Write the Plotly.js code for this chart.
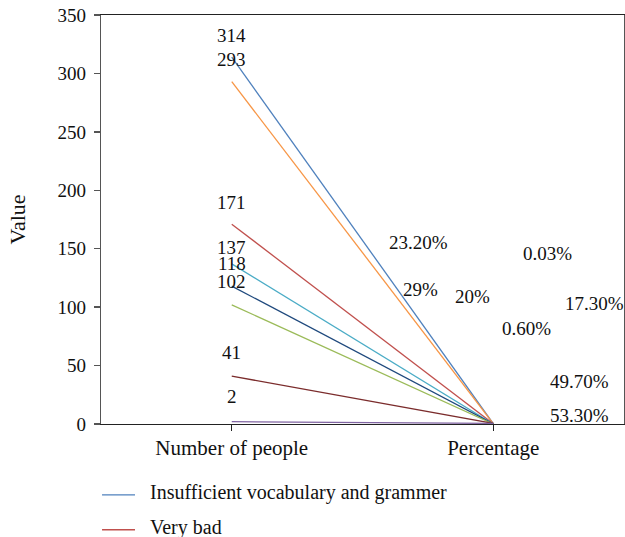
<!DOCTYPE html>
<html>
<head>
<meta charset="utf-8">
<script src="https://cdn.plot.ly/plotly-3.0.1.min.js"></script>
<style>html,body{margin:0;padding:0;background:#fff;}#chart{width:625px;height:537px;}</style>
</head>
<body>
<div id="chart"></div>
<script>
// ---- data ----
var categories = ["Number of people", "Percentage"];
var seriesNames = ["Insufficient vocabulary and grammer", "Series 2", "Very bad", "Series 4", "Series 5", "Series 6", "Series 7", "Series 8"];
var peopleCounts = [314, 293, 171, 137, 118, 102, 41, 2];
var percentValues = [23.2, 29, 20, 0.03, 17.3, 0.6, 49.7, 53.3];
var percentLabels = ["23.20%", "29%", "20%", "0.03%", "17.30%", "0.60%", "49.70%", "53.30%"];
var yTickValues = [0, 50, 100, 150, 200, 250, 300, 350];

// ---- styles ----
var colors = ["#4F81BD", "#F79646", "#C0504D", "#4BACC6", "#1F497D", "#9BBB59", "#7B2C2C", "#8064A2"];
var legendEntries = [0, 2];               // series shown in the (visible part of the) legend
var legendRowY = [-0.1735, -0.2585];       // paper y of each legend row
var countLabelShift = [22, 22, 22, 16, 23, 23, 24, 25];
// placement of the percentage labels (x in category units, y in value units)
var pctLabelPos = [[0.713, 155], [0.72, 115.5], [0.92, 108.7], [1.207, 146], [1.387, 103.5], [1.126, 82], [1.33, 36], [1.33, 7.7]];

var FONT = "Liberation Serif";
var TXT = "#111";

var traces = peopleCounts.map(function (v, i) {
  return {
    type: "scatter", mode: "lines",
    x: categories,
    y: [v, percentValues[i] / 100],
    name: seriesNames[i],
    line: {color: colors[i], width: 1.3},
    showlegend: false,
    hoverinfo: "x+y+name"
  };
});

var annotations = [];
var shapes = [];
peopleCounts.forEach(function (v, i) {
  annotations.push({
    x: 0, y: v, xref: "x", yref: "y", text: String(v), showarrow: false,
    yshift: countLabelShift[i], font: {family: FONT, size: 19, color: TXT}
  });
});
percentLabels.forEach(function (t, i) {
  annotations.push({
    x: pctLabelPos[i][0], y: pctLabelPos[i][1], xref: "x", yref: "y", text: t, showarrow: false,
    font: {family: FONT, size: 19, color: TXT}
  });
});
// legend rows (drawn below the plot)
legendEntries.forEach(function (s, r) {
  shapes.push({
    type: "line", xref: "paper", yref: "paper",
    x0: 0.002, x1: 0.065, y0: legendRowY[r], y1: legendRowY[r],
    line: {color: colors[s], width: 1.3}
  });
  annotations.push({
    x: 0.09, y: legendRowY[r] + 0.006, xref: "paper", yref: "paper",
    xanchor: "left", yanchor: "middle", text: seriesNames[s], showarrow: false,
    font: {family: FONT, size: 20, color: TXT}
  });
});

var layout = {
  width: 625, height: 537,
  margin: {l: 101, r: 1, t: 15, b: 113},
  paper_bgcolor: "#fff", plot_bgcolor: "#fff",
  font: {family: FONT, size: 18, color: TXT},
  showlegend: false,
  xaxis: {
    type: "category", range: [-0.5, 1.5],
    showgrid: false, zeroline: false,
    showline: true, linecolor: "#222", linewidth: 1.3, mirror: true,
    ticks: "outside", ticklen: 6, tickcolor: "#222", tickwidth: 1.3,
    ticklabelstandoff: -2,
    tickfont: {family: FONT, size: 21, color: TXT}
  },
  yaxis: {
    range: [0, 350], tickvals: yTickValues,
    showgrid: false, zeroline: false,
    showline: true, linecolor: "#555", linewidth: 1.3, mirror: true,
    ticks: "outside", ticklen: 6, tickcolor: "#555", tickwidth: 1.3,
    ticklabelstandoff: 4,
    tickfont: {family: FONT, size: 19, color: TXT},
    title: {text: "Value", font: {family: FONT, size: 22, color: TXT}, standoff: 25}
  },
  shapes: shapes,
  annotations: annotations
};

Plotly.newPlot("chart", traces, layout, {displayModeBar: false, staticPlot: true});
</script>
</body>
</html>
